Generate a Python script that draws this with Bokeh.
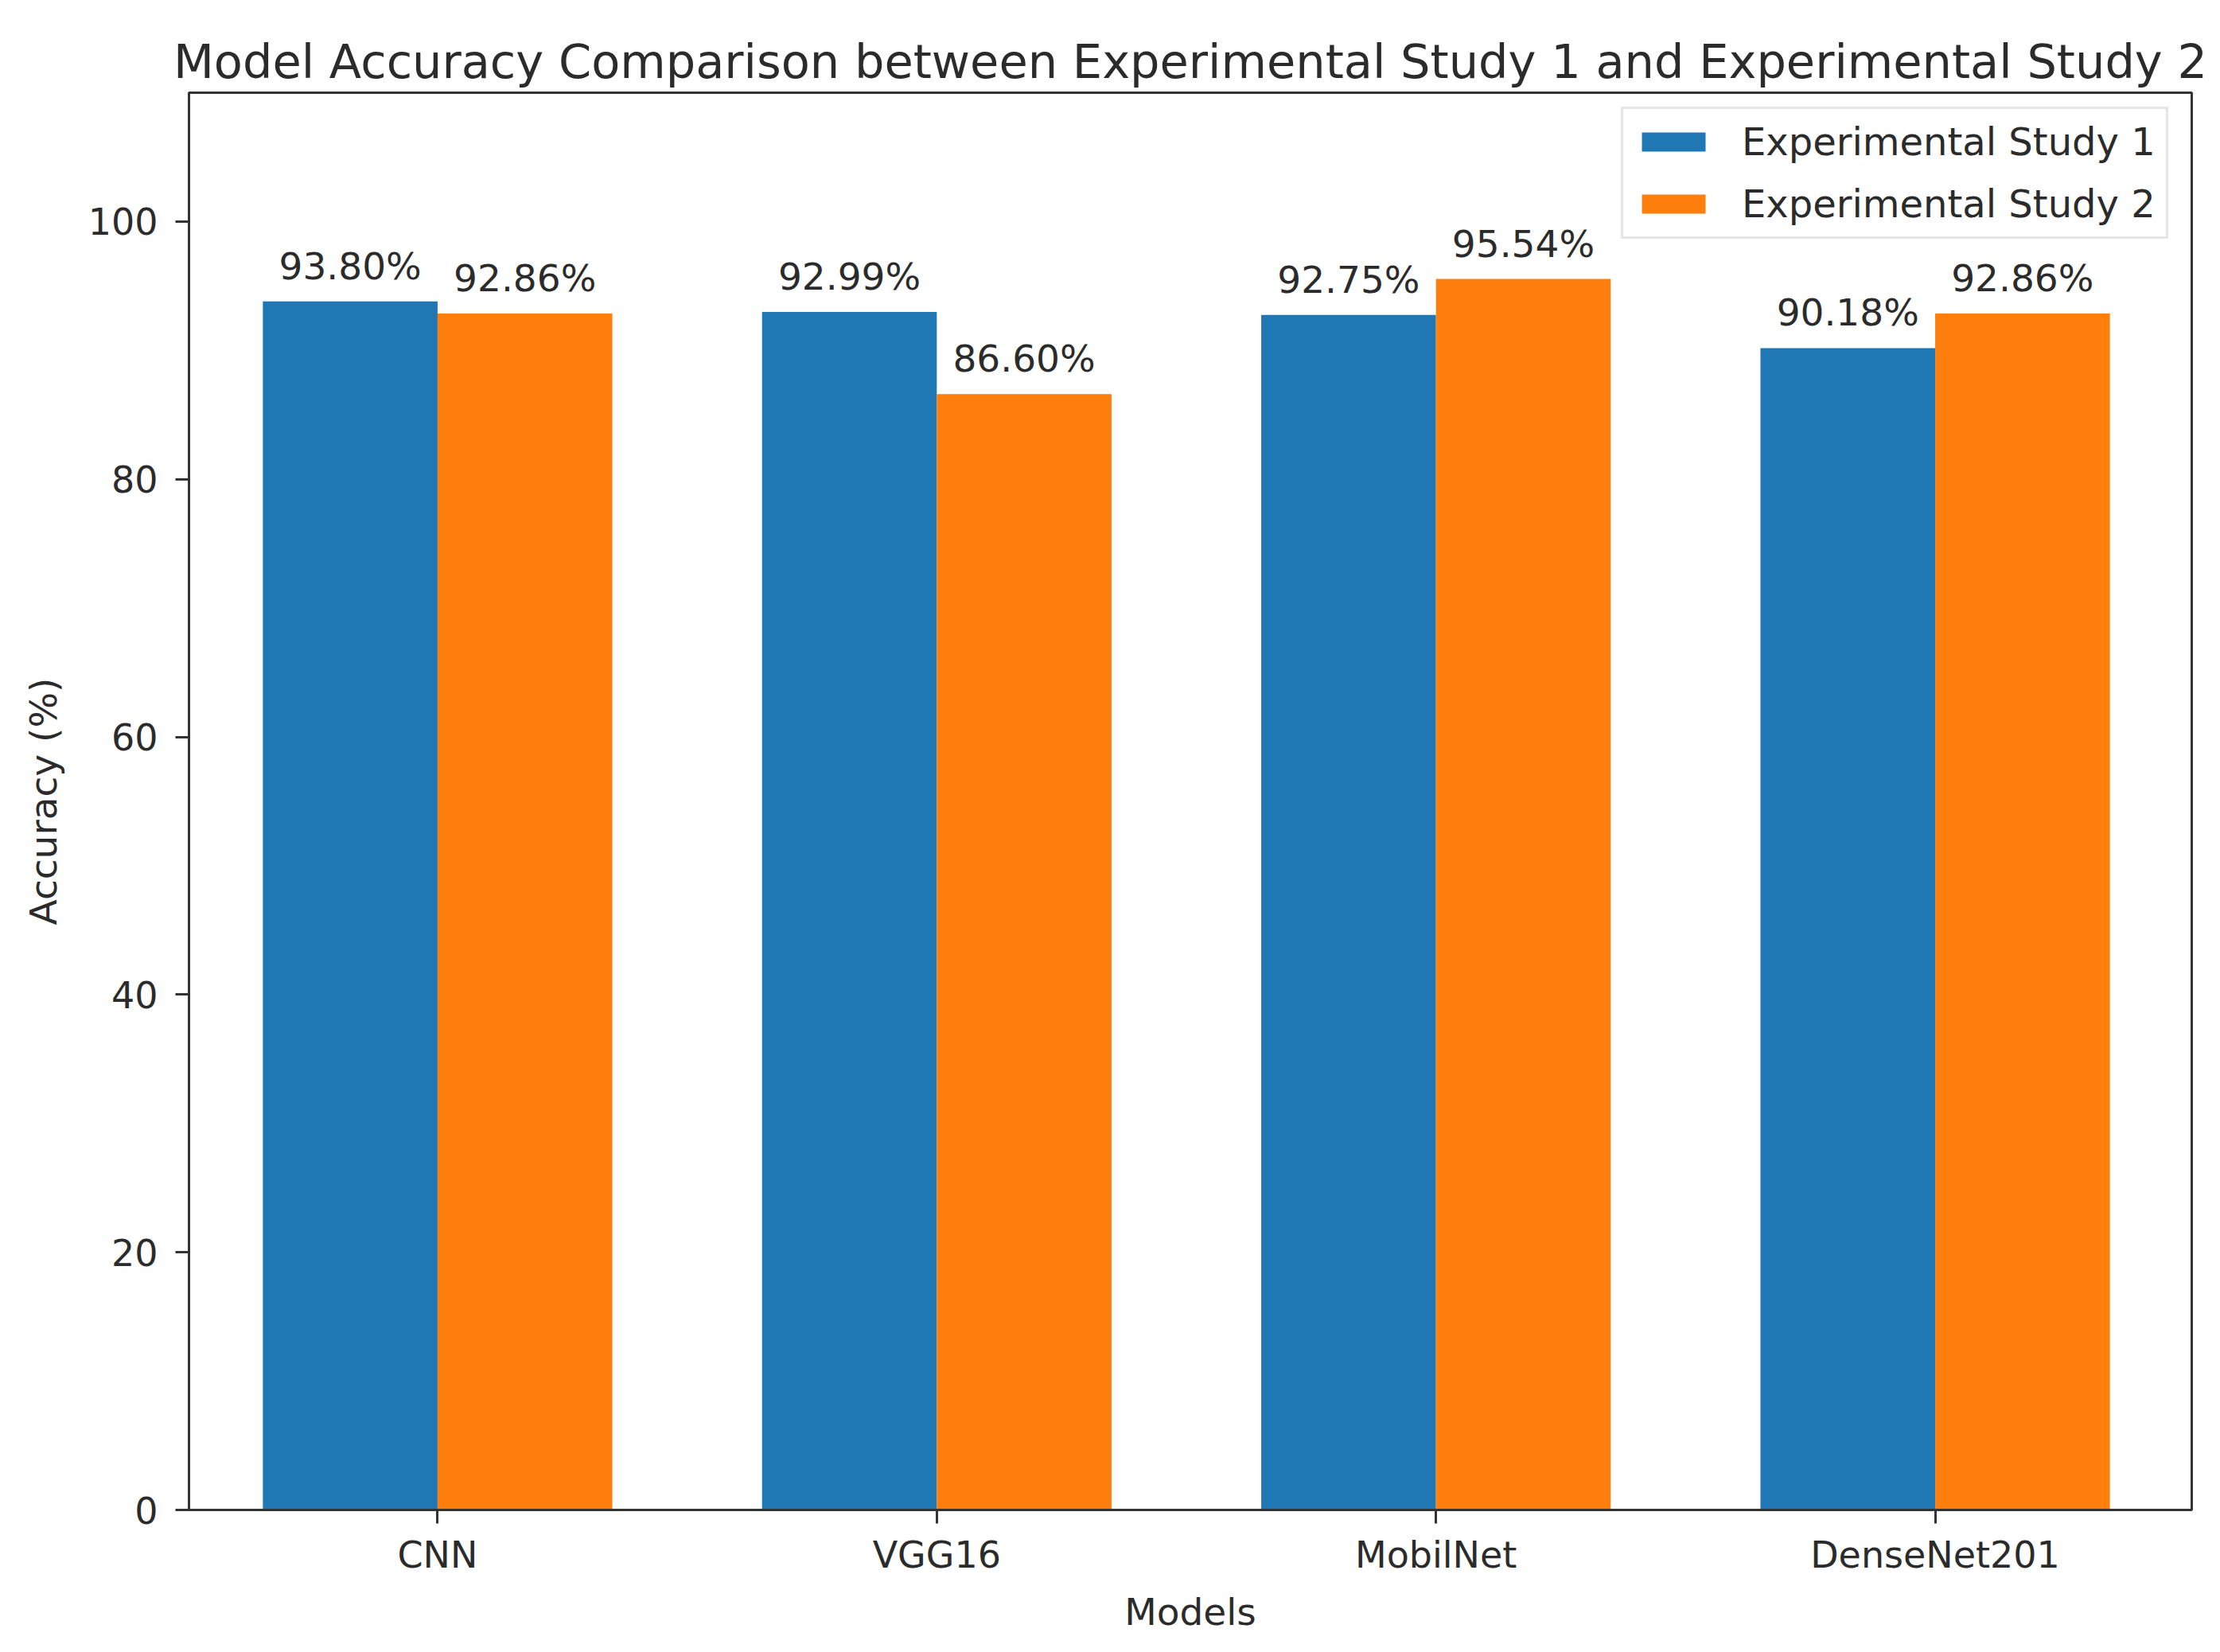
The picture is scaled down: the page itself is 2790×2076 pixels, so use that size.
from bokeh.plotting import figure
from bokeh.models import (Range1d, FixedTicker, ColumnDataSource, LabelSet,
                          Legend, LegendItem)
from bokeh.core.properties import value
from bokeh.embed import file_html
from bokeh.resources import INLINE

# ---- data ----
models = ["CNN", "VGG16", "MobilNet", "DenseNet201"]
study1 = [93.80, 92.99, 92.75, 90.18]
study2 = [92.86, 86.60, 95.54, 92.86]
series_names = ["Experimental Study 1", "Experimental Study 2"]
y_ticks = [0, 20, 40, 60, 80, 100]
title_text = "Model Accuracy Comparison between Experimental Study 1 and Experimental Study 2"
x_label = "Models"
y_label = "Accuracy (%)"

# ---- style ----
colors = ["#1f77b4", "#ff7f0e"]
bar_width = 0.35
FONT = "DejaVu Sans"
TXT = "#2b2b2b"
LINE = "#333333"

xs = list(range(len(models)))
src1 = ColumnDataSource(dict(x=[i - bar_width / 2 for i in xs], top=study1,
                             label=[f"{v:.2f}%" for v in study1]))
src2 = ColumnDataSource(dict(x=[i + bar_width / 2 for i in xs], top=study2,
                             label=[f"{v:.2f}%" for v in study2]))

p = figure(width=2774, height=2060, output_backend="svg", toolbar_location=None,
           x_range=Range1d(-0.498, 3.514), y_range=Range1d(0, 110),
           min_border_left=237, min_border_right=20, min_border_top=116,
           min_border_bottom=163)

p.title.text = title_text
p.title.align = "center"
p.title.text_font = FONT
p.title.text_font_size = "59px"
p.title.text_font_style = "normal"
p.title.text_color = TXT
p.title.standoff = 10

r1 = p.vbar(x="x", top="top", width=bar_width, source=src1,
            fill_color=colors[0], line_color=None)
r2 = p.vbar(x="x", top="top", width=bar_width, source=src2,
            fill_color=colors[1], line_color=None)

for src in (src1, src2):
    p.add_layout(LabelSet(x="x", y="top", text="label", source=src,
                          text_align="center", text_baseline="alphabetic",
                          y_offset=28, text_font=value(FONT),
                          text_font_size="47px", text_color=TXT))

p.xgrid.visible = False
p.ygrid.visible = False
p.outline_line_color = LINE
p.outline_line_width = 3
p.outline_line_alpha = 1

p.xaxis.ticker = FixedTicker(ticks=xs)
p.xaxis.major_label_overrides = {i: m for i, m in enumerate(models)}
p.yaxis.ticker = FixedTicker(ticks=y_ticks)
p.xaxis.axis_label = x_label
p.yaxis.axis_label = y_label

for ax in (p.xaxis, p.yaxis):
    ax.axis_line_color = LINE
    ax.axis_line_width = 3
    ax.major_tick_line_color = LINE
    ax.major_tick_line_width = 3
    ax.major_tick_out = 17
    ax.major_tick_in = 0
    ax.minor_tick_line_color = None
    ax.major_label_text_font = FONT
    ax.major_label_text_font_size = "46px"
    ax.major_label_text_color = TXT
    ax.axis_label_text_font = FONT
    ax.axis_label_text_font_size = "47px"
    ax.axis_label_text_font_style = "normal"
    ax.axis_label_text_color = TXT

p.xaxis.major_label_standoff = 12
p.yaxis.major_label_standoff = 22
p.xaxis.axis_label_standoff = 14
p.yaxis.axis_label_standoff = 26

legend = Legend(items=[LegendItem(label=series_names[0], renderers=[r1]),
                       LegendItem(label=series_names[1], renderers=[r2])],
                location=(1800, 1597))
legend.glyph_width = 100
legend.glyph_height = 30
legend.label_standoff = 36
legend.padding = 13
legend.spacing = 22
legend.label_text_font = FONT
legend.label_text_font_size = "48px"
legend.label_text_color = TXT
legend.border_line_color = "#cccccc"
legend.border_line_width = 3
legend.background_fill_color = "white"
legend.background_fill_alpha = 0.8
p.add_layout(legend)

open("out.html", "w").write(file_html(p, INLINE))
